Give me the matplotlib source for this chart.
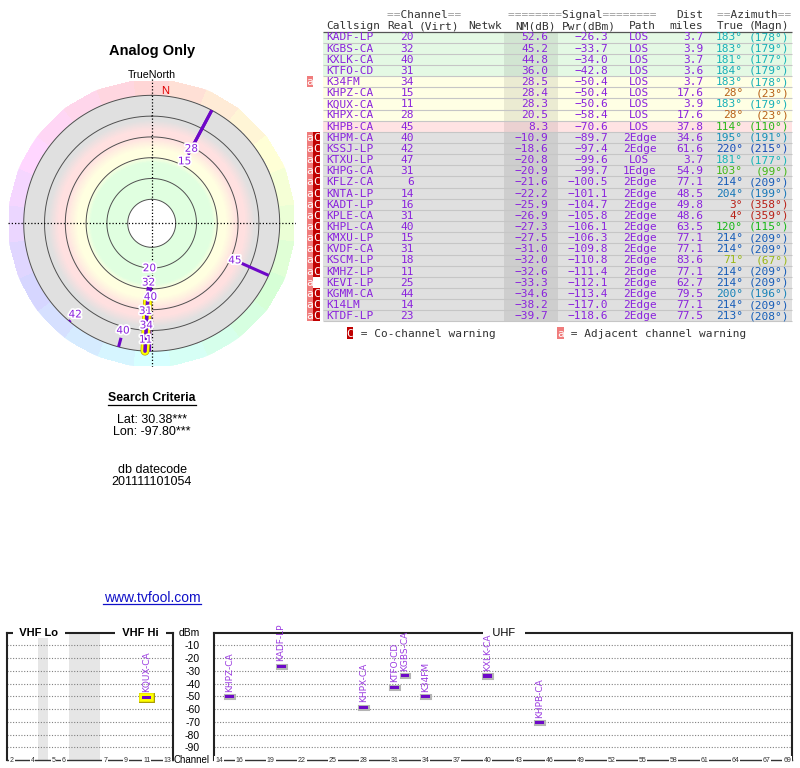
import numpy as np
import matplotlib
matplotlib.use('Agg')
import matplotlib.pyplot as plt
import matplotlib.patheffects as pe
from matplotlib.colors import LinearSegmentedColormap, ListedColormap, Normalize, hsv_to_rgb
from matplotlib.lines import Line2D

plt.rcParams['font.family'] = ['Liberation Sans', 'DejaVu Sans']

# station table
callsign = ['KADF-LP', 'KGBS-CA', 'KXLK-CA', 'KTFO-CD', 'K34FM', 'KHPZ-CA', 'KQUX-CA', 'KHPX-CA',
            'KHPB-CA', 'KHPM-CA', 'KSSJ-LP', 'KTXU-LP', 'KHPG-CA', 'KFLZ-CA', 'KNTA-LP', 'KADT-LP',
            'KPLE-CA', 'KHPL-CA', 'KMXU-LP', 'KVDF-CA', 'KSCM-LP', 'KMHZ-LP', 'KEVI-LP', 'KGMM-CA',
            'K14LM', 'KTDF-LP']
channel = [20, 32, 40, 31, 34, 15, 11, 28, 45, 40, 42, 47, 31, 6, 14, 16, 31, 40, 15, 31, 18, 11, 25, 44, 14, 23]
nm_db = [52.6, 45.2, 44.8, 36.0, 28.5, 28.4, 28.3, 20.5, 8.3, -10.9, -18.6, -20.8, -20.9, -21.6, -22.2,
         -25.9, -26.9, -27.3, -27.5, -31.0, -32.0, -32.6, -33.3, -34.6, -38.2, -39.7]
pwr_dbm = [-26.3, -33.7, -34.0, -42.8, -50.4, -50.4, -50.6, -58.4, -70.6, -89.7, -97.4, -99.6, -99.7,
           -100.5, -101.1, -104.7, -105.8, -106.1, -106.3, -109.8, -110.8, -111.4, -112.1, -113.4,
           -117.0, -118.6]
path = ['LOS'] * 9 + ['2Edge', '2Edge', 'LOS', '1Edge'] + ['2Edge'] * 13
dist = [3.7, 3.9, 3.7, 3.6, 3.7, 17.6, 3.9, 17.6, 37.8, 34.6, 61.6, 3.7, 54.9, 77.1, 48.5, 49.8, 48.6,
        63.5, 77.1, 77.1, 83.6, 77.1, 62.7, 79.5, 77.1, 77.5]
az_true = [183, 183, 181, 184, 183, 28, 183, 28, 114, 195, 220, 181, 103, 214, 204, 3, 4, 120, 214, 214,
           71, 214, 214, 200, 214, 213]
az_magn = [178, 179, 177, 179, 178, 23, 179, 23, 110, 191, 215, 177, 99, 209, 199, 358, 359, 115, 209,
           209, 67, 209, 209, 196, 209, 208]
warning = ['', '', '', '', 'a', '', '', '', '', 'aC', 'aC', 'aC', 'aC', 'aC', 'aC', 'aC', 'aC', 'aC',
           'aC', 'aC', 'aC', 'aC', 'a', 'aC', 'aC', 'aC']

rings = [80, 60, 40, 20, 0, -20]
vhf_ticks = [2, 4, 5, 6, 7, 9, 11, 13]
uhf_ticks = [14, 16, 19, 22, 25, 28, 31, 34, 37, 40, 43, 46, 49, 52, 55, 58, 61, 64, 67, 69]
dbm_ticks = [-10, -20, -30, -40, -50, -60, -70, -80, -90]

W, H = 800, 768
PURPLE = '#8a22dd'
BAR = '#6e08c8'
MONO = 'DejaVu Sans Mono'
n = len(callsign)


def fx(x):
    return x / W


def fy(y):
    return 1 - y / H


def az_color(a):
    return hsv_to_rgb((a / 360.0, 0.88, 0.72))


def row_color(v):
    if v >= 30:
        return '#e4f9e4'
    if v >= 15:
        return '#ffffe4'
    if v >= 0:
        return '#ffe3e3'
    return '#e0e0e0'


fig = plt.figure(figsize=(8, 7.68), dpi=100)

#table axes: x in pixels, y in rows
row0, rowh = 31.5, 11.15
tab = fig.add_axes([0, 0, 1, 1])
tab.set_xlim(0, W)
tab.set_ylim((H - row0) / rowh, -row0 / rowh)
tab.axis('off')

rows = np.arange(n) + 0.5
bg = [row_color(v) for v in nm_db]
tab.barh(rows, 792 - 323.3, left=323.3, height=1, color=bg, zorder=1)
dark = [tuple(np.array(matplotlib.colors.to_rgb(c)) * 0.92) for c in bg]
tab.barh(rows, 54, left=504, height=1, color=dark, zorder=1.1)
tab.hlines(np.arange(1, n + 1), 323.3, 792, color='#c6c6c6', lw=0.8, zorder=1.2)
tab.hlines(0, 323.3, 792, color='#555555', lw=0.9, zorder=1.2)

kw = dict(family=MONO, fontsize=8, va='baseline', zorder=3)
ty = rows + 0.3
for i in range(n):
    tab.text(326, ty[i], callsign[i], ha='left', color=PURPLE, **kw)
    tab.text(414, ty[i], str(channel[i]), ha='right', color=PURPLE, **kw)
    tab.text(548.5, ty[i], f'{nm_db[i]:.1f}'.replace('-', '\u2212'), ha='right', color=PURPLE, **kw)
    tab.text(608.5, ty[i], f'{pwr_dbm[i]:.1f}'.replace('-', '\u2212'), ha='right', color=PURPLE, **kw)
    tab.text(639.5, ty[i], path[i], ha='center', color=PURPLE, **kw)
    tab.text(703.5, ty[i], f'{dist[i]:.1f}', ha='right', color=PURPLE, **kw)
    c = az_color(az_true[i])
    tab.text(743, ty[i], f'{az_true[i]}°', ha='right', color=c, **kw)
    tab.text(789.5, ty[i], f'({az_magn[i]}°)', ha='right', color=c, **kw)
    if 'a' in warning[i]:
        tab.barh(rows[i], 6.7, left=306.6, height=1, color='#f07c7c', zorder=2)
        tab.text(310, ty[i], 'a', ha='center', color='white', **kw)
    if 'C' in warning[i]:
        tab.barh(rows[i], 6.7, left=313.3, height=1, color='#c00000', zorder=2)
        tab.text(316.7, ty[i], 'C', ha='center', color='white', **kw)

# headers
HD, EQ = '#333333', '#9a9a9a'
h1, h2 = -1.5 + 0.3, -0.5 + 0.3


def eq_header(x, s):
    tab.text(x, h1, ''.join(ch if ch == '=' else ' ' for ch in s), ha='left', color=EQ, **kw)
    tab.text(x, h1, ''.join(' ' if ch == '=' else ch for ch in s), ha='left', color=HD, **kw)


eq_header(387.3, '==Channel==')
eq_header(508.3, '========Signal========')
eq_header(717.3, '==Azimuth==')
tab.text(703.5, h1, 'Dist', ha='right', color=HD, **kw)
for x, s, ha in [(326, 'Callsign', 'left'), (414, 'Real', 'right'), (419, '(Virt)', 'left'),
                 (468.3, 'Netwk', 'left'), (555.5, 'NM(dB)', 'right'), (615.5, 'Pwr(dBm)', 'right'),
                 (642.7, 'Path', 'center'), (703.5, 'miles', 'right'), (743.3, 'True', 'right'),
                 (789.5, '(Magn)', 'right')]:
    tab.text(x, h2, s, ha=ha, color=HD, **kw)

# legend under table
ly = (333 - row0) / rowh
tab.barh(ly, 6.7, left=346.7, height=1.05, color='#c00000', zorder=2)
tab.text(350, ly + 0.32, 'C', ha='center', color='white', **kw)
tab.text(353.5, ly + 0.32, ' = Co-channel warning', ha='left', color=HD, **kw)
tab.barh(ly, 6.7, left=557.3, height=1.05, color='#f07c7c', zorder=2)
tab.text(560.6, ly + 0.32, 'a', ha='center', color='white', **kw)
tab.text(564.2, ly + 0.32, ' = Adjacent channel warning', ha='left', color=HD, **kw)

# left column text
fig.text(fx(152), fy(51), 'Analog Only', ha='center', va='center', fontsize=10.5, fontweight='bold')
fig.text(fx(152), fy(74.5), 'TrueNorth', ha='center', va='center', fontsize=7.7)
fig.text(fx(152), fy(398.3), 'Search Criteria', ha='center', va='center', fontsize=8.8, fontweight='bold')
fig.add_artist(Line2D([fx(108.3), fx(195.5)], [fy(404.5), fy(404.5)], color='black', lw=0.9))
fig.text(fx(152), fy(420), 'Lat: 30.38***', ha='center', va='center', fontsize=9)
fig.text(fx(152), fy(432.3), 'Lon: -97.80***', ha='center', va='center', fontsize=9)
fig.text(fx(152), fy(470), 'db datecode', ha='center', va='center', fontsize=9)
fig.text(fx(152), fy(481.7), '201111101054', ha='center', va='center', fontsize=9)
fig.text(fx(152), fy(597.5), 'www.tvfool.com', ha='center', va='center', fontsize=10, color='#1010c8')
fig.add_artist(Line2D([fx(102.7), fx(200.7)], [fy(604), fy(604)], color='#1010c8', lw=0.9))

# polar radar plot, radius runs from strong (center) to weak (edge)
cx, cy, R = 151.7, 223.3, 144
nm_center, nm_edge = 103.1, -35.4
pol = fig.add_axes([fx(cx - R), fy(cy + R), 2 * R / W, 2 * R / H], projection='polar')
pol.set_theta_zero_location('N')
pol.set_theta_direction(-1)
pol.set_ylim(nm_center, nm_edge)
pol.set_xticks([])
pol.set_yticks([])
pol.grid(False)
pol.spines['polar'].set_visible(False)
pol.set_facecolor('none')

# outer compass ring, 24 pastel hue segments
seg_edges = np.deg2rad(np.arange(-7.5, 360, 15))
hues = [0.84 + 0.16 * hsv_to_rgb((k / 24.0, 1, 1)) for k in range(24)]
T, Rr = np.meshgrid(seg_edges, [-18, nm_edge])
pol.pcolormesh(T, Rr, np.arange(24)[None, :], cmap=ListedColormap(hues), vmin=-0.5, vmax=23.5,
               shading='flat', zorder=1)

# signal zones
zone_cmap = LinearSegmentedColormap.from_list('zones', [
    (0.0, '#e0e0e0'), (24 / 100, '#e0e0e0'), (33.7 / 100, '#ffe0e0'), (40.4 / 100, '#ffe0e0'),
    (52 / 100, '#ffffe0'), (59.6 / 100, '#ffffe0'), (65 / 100, '#e0ffe0'), (1.0, '#e0ffe0')])
th = np.linspace(0, 2 * np.pi, 361)
rr = np.linspace(-20, 80, 201)
T, Rr = np.meshgrid(th, rr)
zc = 0.5 * (rr[1:] + rr[:-1])
pol.pcolormesh(T, Rr, np.repeat(zc[:, None], 360, axis=1), cmap=zone_cmap, norm=Normalize(-20, 80),
               shading='flat', zorder=2)
for lev in rings:
    pol.plot(th, np.full_like(th, lev), color='#505050', lw=0.7, zorder=3)

# station lines from their margin out to the edge ring
shown = [i for i in range(n) if nm_db[i] > rings[-1]]
for i in shown:
    a = np.deg2rad(az_true[i])
    if channel[i] <= 13:
        pe_ = [pe.Stroke(linewidth=6.5, foreground='#b8a800'), pe.Stroke(linewidth=5.5, foreground='#ffff00'),
               pe.Normal()]
        pol.plot([a, a], [nm_db[i], rings[-1]], color=BAR, lw=2.6, solid_capstyle='round', zorder=5,
                 path_effects=pe_)
    else:
        pol.plot([a, a], [nm_db[i], rings[-1]], color=BAR, lw=2.2, solid_capstyle='butt', zorder=4)

for t in [0, 0.5 * np.pi, np.pi, 1.5 * np.pi]:
    pol.plot([t, t], [nm_edge, nm_center], color='black', lw=0.9, ls=(0, (1, 1.6)), zorder=6)

# channel labels, stacked outward where they would overlap
def r_px(v):
    return 107.2 - 1.04 * v


placed = []
for i in sorted(shown, key=lambda k: r_px(nm_db[k])):
    lr = r_px(nm_db[i]) - 7.5
    for j, pr in placed:
        d = abs((az_true[i] - az_true[j] + 180) % 360 - 180)
        if d < 10 and lr < pr + 14.3:
            lr = pr + 14.3
    placed.append((i, lr))
    pol.text(np.deg2rad(az_true[i]), (107.2 - lr) / 1.04, str(channel[i]), ha='center', va='center',
             fontsize=7.5, family='DejaVu Sans', color=PURPLE, zorder=7,
             path_effects=[pe.withStroke(linewidth=2.5, foreground='white')])

pol.text(np.deg2rad(6), (107.2 - 133) / 1.04, 'N', ha='center', va='center', fontsize=8,
         color='#e00000', zorder=7)

# channel spectrum
def vhf_slot(c):
    if c <= 4:
        return c - 2
    if c <= 6:
        return c - 1
    return c + 2


y0, y1 = 632.7, 760
vhf = fig.add_axes([fx(6.7), fy(y1), 166 / W, (y1 - y0) / H])
uhf = fig.add_axes([fx(214), fy(y1), 578.3 / W, (y1 - y0) / H])
vhf.set_xlim(-0.5, 15.5)
uhf.set_xlim(13.5, 69.5)
for ax in (vhf, uhf):
    ax.set_ylim(-100, 0)
    ax.set_yticks(dbm_ticks)
    ax.set_xticks([])
    ax.set_axisbelow(True)
    ax.grid(axis='y', ls=(0, (1, 1.5)), color='#808080', lw=0.8)
    for s in ['left', 'right', 'top']:
        ax.spines[s].set_linewidth(1.5)
        ax.spines[s].set_color('#222222')
    ax.spines['bottom'].set_linewidth(1.0)
    ax.spines['bottom'].set_color('#333333')
vhf.tick_params(axis='y', length=0, labelleft=False)
uhf.tick_params(axis='y', length=0, pad=10, labelsize=7.5)
uhf.set_yticklabels([str(v) for v in dbm_ticks])

vhf.axvspan(2.5, 3.5, color='#e6e6e6', lw=0, zorder=0.2)
vhf.axvspan(5.5, 8.5, color='#e6e6e6', lw=0, zorder=0.2)

tb = dict(facecolor='white', edgecolor='none', pad=0.6)
for c in vhf_ticks:
    vhf.text(vhf_slot(c), -100, str(c), ha='center', va='center', fontsize=5, color='#333333',
             bbox=tb, clip_on=False, zorder=5)
for c in uhf_ticks:
    uhf.text(c, -100, str(c), ha='center', va='center', fontsize=5, color='#333333',
             bbox=tb, clip_on=False, zorder=5)

hb = dict(facecolor='white', edgecolor='none', pad=0.5)
vhf.text(0.195, 1, '  VHF Lo  ', transform=vhf.transAxes, ha='center', va='center', fontsize=8,
         fontweight='bold', bbox=hb, clip_on=False, zorder=5)
vhf.text(0.806, 1, '  VHF Hi  ', transform=vhf.transAxes, ha='center', va='center', fontsize=8,
         fontweight='bold', bbox=hb, clip_on=False, zorder=5)
uhf.text(0.5015, 1, '   UHF   ', transform=uhf.transAxes, ha='center', va='center', fontsize=8,
         bbox=hb, clip_on=False, zorder=5)
uhf.annotate('dBm', (0, 1), xycoords='axes fraction', xytext=(-14, 0), textcoords='offset pixels',
             ha='right', va='center', fontsize=7.5)
uhf.annotate('Channel', (0, 0), xycoords='axes fraction', xytext=(-4, 0), textcoords='offset pixels',
             ha='right', va='center', fontsize=7)

shadow = [pe.Stroke(linewidth=2.2, foreground='#b4b4b4'), pe.Normal()]
glow = [pe.Stroke(linewidth=5, foreground='#a89a00'), pe.Stroke(linewidth=4, foreground='#ffff00'),
        pe.Normal()]
for i in range(n):
    if nm_db[i] <= 0:
        continue
    if channel[i] <= 13:
        ax, x, eff = vhf, vhf_slot(channel[i]), glow
    else:
        ax, x, eff = uhf, channel[i], shadow
    ax.bar(x, 2.4, bottom=pwr_dbm[i] - 1.2, width=0.85, color=BAR, lw=0, zorder=4, path_effects=eff)
    ax.annotate(callsign[i], (x, pwr_dbm[i]), xytext=(0, 5), textcoords='offset pixels', rotation=90,
                ha='center', va='bottom', fontsize=6.5, family='DejaVu Sans', color='#9a3ae0',
                annotation_clip=False, zorder=6)

plt.savefig('out.png', dpi=100)
